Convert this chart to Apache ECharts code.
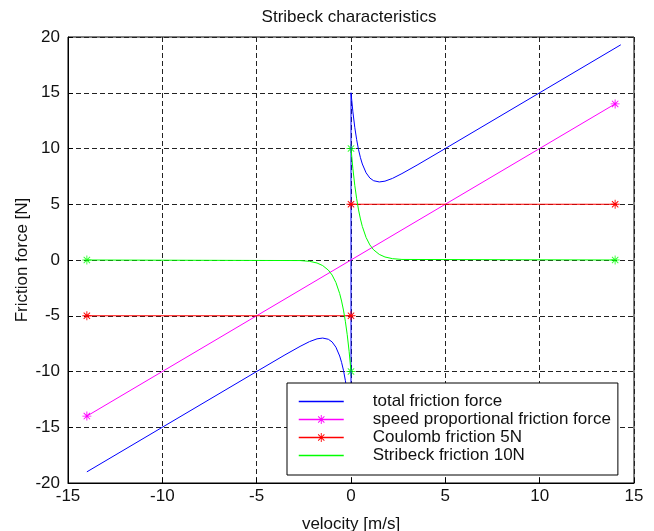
<!DOCTYPE html>
<html>
<head>
<meta charset="utf-8">
<script src="https://cdn.jsdelivr.net/npm/echarts@6/dist/echarts.min.js"></script>
<style>
  html, body { margin: 0; padding: 0; background: #fff; }
  #main { width: 654px; height: 531px; }
</style>
</head>
<body>
<div id="main"></div>
<script>
// values
var xTicks = [-15, -10, -5, 0, 5, 10, 15]
var yTicks = [-20, -15, -10, -5, 0, 5, 10, 15, 20]

// total friction force (blue)
var totalForce = [
  [-14, -19], [-5, -10], [-3.5, -8.51], [-2.7, -7.75], [-2.2, -7.32], [-1.8, -7.07],
  [-1.5, -7.0], [-1.2, -7.11], [-1.0, -7.35], [-0.8, -7.82], [-0.6, -8.61], [-0.5, -9.18],
  [-0.4, -9.89], [-0.3, -10.79], [-0.2, -11.9], [-0.1, -13.29], [0, -15],
  [0, 15], [0.1, 13.29], [0.2, 11.9], [0.3, 10.79], [0.4, 9.89], [0.5, 9.18], [0.6, 8.61],
  [0.8, 7.82], [1.0, 7.35], [1.2, 7.11], [1.5, 7.0], [1.8, 7.07], [2.2, 7.32], [2.7, 7.75],
  [3.5, 8.51], [5, 10], [14.3, 19.3]
]
// speed proportional friction force (magenta)
var speedForce = [[-14, -14], [14, 14]]
// coulomb friction 5N (red)
var coulombForce = [[-14, -5], [0, -5], [0, '-'], [0, 5], [14, 5]]
// stribeck friction 10N (green)
var stribeckForce = [
  [-14, 0], [-2.7, -0.05], [-2.2, -0.12], [-1.8, -0.27], [-1.5, -0.5], [-1.2, -0.91],
  [-1.0, -1.35], [-0.8, -2.02], [-0.6, -3.01], [-0.5, -3.68], [-0.4, -4.49], [-0.3, -5.49],
  [-0.2, -6.7], [-0.1, -8.19], [0, -10], [0, '-'],
  [0, 10], [0.1, 8.19], [0.2, 6.7], [0.3, 5.49], [0.4, 4.49], [0.5, 3.68], [0.6, 3.01],
  [0.8, 2.02], [1.0, 1.35], [1.2, 0.91], [1.5, 0.5], [1.8, 0.27], [2.2, 0.12], [2.7, 0.05],
  [14, 0]
]
var stribeckStars = [[-14, 0], [0, -10], [0, 10], [14, 0]]

var names = ['total friction force', 'speed proportional friction force', 'Coulomb friction 5N', 'Stribeck friction 10N']

// matlab '*' marker
var star = 'path://M-5,-0.5L5,-0.5L5,0.5L-5,0.5Z M-0.5,-5L0.5,-5L0.5,5L-0.5,5Z' +
  ' M-3.89,-3.19L-3.19,-3.89L3.89,3.19L3.19,3.89Z M-3.19,3.89L-3.89,3.19L3.19,-3.89L3.89,-3.19Z'

var font = '"Liberation Sans", Arial, sans-serif'
var fs = 17

var chart = echarts.init(document.getElementById('main'), null, { renderer: 'canvas' })

function lineSeries (name, data, color, withStar) {
  return {
    name: name,
    type: 'line',
    data: data,
    symbol: withStar ? star : 'none',
    symbolSize: 9,
    showSymbol: withStar,
    connectNulls: false,
    lineStyle: { color: color, width: 1 },
    itemStyle: { color: color },
    emphasis: { disabled: true },
    animation: false
  }
}

var axisCommon = {
  type: 'value',
  nameLocation: 'middle',
  nameMoveOverlap: false,
  nameTextStyle: { fontFamily: font, fontSize: fs, color: '#111' },
  axisLine: { show: true, onZero: false, lineStyle: { color: '#000' } },
  axisTick: { show: true, inside: true, length: 5, lineStyle: { color: '#000' } },
  splitLine: { show: true, lineStyle: { color: '#222', type: [5, 3] } }
}

var option = {
  animation: false,
  backgroundColor: '#fff',
  title: {
    text: 'Stribeck characteristics',
    left: 349,
    top: 9,
    padding: 0,
    textAlign: 'center',
    textStyle: { fontFamily: font, fontSize: fs, fontWeight: 'normal', color: '#111' }
  },
  grid: {
    left: 68, right: 20, top: 37, bottom: 48,
    outerBoundsMode: 'none',
    containLabel: false,
    show: true, borderColor: '#000', borderWidth: 1, backgroundColor: '#fff'
  },
  legend: {
    data: [
      { name: names[0], itemStyle: { opacity: 0 } },
      { name: names[1] },
      { name: names[2] },
      { name: names[3], itemStyle: { opacity: 0 } }
    ],
    orient: 'vertical',
    left: 287,
    top: 383,
    padding: [10, 7, 11, 11],
    itemWidth: 45,
    itemHeight: 11,
    itemGap: 1,
    backgroundColor: '#fff',
    borderColor: '#000',
    borderWidth: 1,
    borderRadius: 0,
    selectedMode: false,
    lineStyle: { width: 1.5 },
    textStyle: { fontFamily: font, fontSize: fs, lineHeight: 17, color: '#111', padding: [0, 0, 0, 24] }
  },
  xAxis: Object.assign({}, axisCommon, {
    min: xTicks[0], max: xTicks[xTicks.length - 1], interval: 5,
    name: 'velocity [m/s]',
    nameGap: 33,
    axisLabel: { fontFamily: font, fontSize: fs, color: '#111', margin: 5 }
  }),
  yAxis: Object.assign({}, axisCommon, {
    min: yTicks[0], max: yTicks[yTicks.length - 1], interval: 5,
    name: 'Friction force [N]',
    nameGap: 37,
    axisLabel: { fontFamily: font, fontSize: fs, color: '#111', margin: 8 }
  }),
  series: [
    lineSeries(names[0], totalForce, '#0000ff', false),
    lineSeries(names[1], speedForce, '#ff00ff', true),
    lineSeries(names[2], coulombForce, '#ff0000', true),
    lineSeries(names[3], stribeckForce, '#00ff00', false),
    {
      name: 'stribeck stars',
      type: 'scatter',
      data: stribeckStars,
      symbol: star,
      symbolSize: 9,
      itemStyle: { color: '#00ff00' },
      emphasis: { disabled: true },
      animation: false
    }
  ]
}

chart.setOption(option)
</script>
</body>
</html>
